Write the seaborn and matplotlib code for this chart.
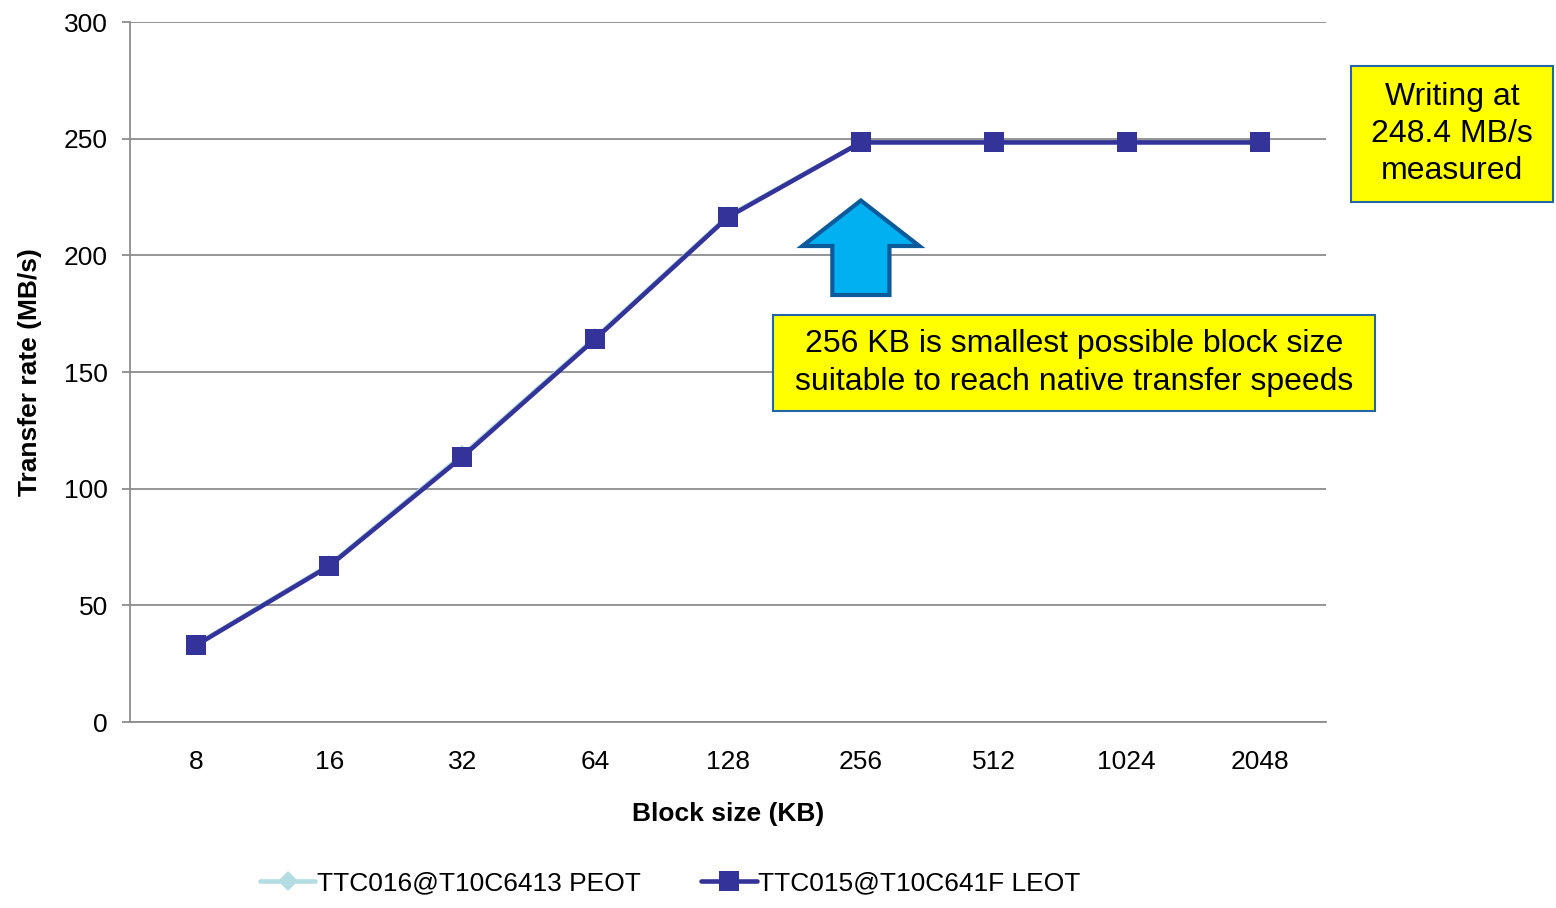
import matplotlib
matplotlib.use("Agg")
import matplotlib.pyplot as plt
from matplotlib.patches import Polygon, Rectangle
import seaborn as sns
import pandas as pd
import numpy as np

block_sizes = ["8", "16", "32", "64", "128", "256", "512", "1024", "2048"]
peot_rate = [33.2, 67.3, 114.3, 164.6, 216.8, 248.4, 248.4, 248.4, 248.4]
leot_rate = [33.0, 66.9, 113.6, 164.1, 216.4, 248.4, 248.4, 248.4, 248.4]
series_names = ["TTC016@T10C6413 PEOT", "TTC015@T10C641F LEOT"]
y_ticks = [0, 50, 100, 150, 200, 250, 300]
note_main = "256 KB is smallest possible block size\nsuitable to reach native transfer speeds"
note_rate = "Writing at\n248.4 MB/s\nmeasured"

sns.set_theme(style="white")
plt.rcParams["font.family"] = ["Liberation Sans", "DejaVu Sans"]
plt.rcParams.update({"text.color": "black", "axes.labelcolor": "black",
                     "xtick.labelcolor": "black", "ytick.labelcolor": "black"})

W, H = 1556, 908
fig = plt.figure(figsize=(W / 100, H / 100), dpi=100)
ax = fig.add_axes([130 / W, 1 - 722 / H, (1326 - 130) / W, (722 - 22) / H])

df = pd.DataFrame({
    "block": block_sizes * 2,
    "rate": peot_rate + leot_rate,
    "series": [series_names[0]] * 9 + [series_names[1]] * 9,
})

sns.lineplot(data=df[df.series == series_names[0]], x="block", y="rate", ax=ax,
             color="#b3dde2", lw=3.3, marker="D", markersize=10,
             markeredgewidth=0, sort=False, label=series_names[0])
sns.lineplot(data=df[df.series == series_names[1]], x="block", y="rate", ax=ax,
             color="#333399", lw=3.3, marker="s", markersize=14,
             markeredgewidth=0, sort=False, label=series_names[1])

ax.set_xlim(-0.5, 8.5)
ax.set_ylim(0, 300)
ax.set_yticks(y_ticks)
ax.yaxis.grid(True, color="#8c8c8c", lw=1.3)
ax.set_axisbelow(True)
for s in ["top", "right"]:
    ax.spines[s].set_visible(False)
for s in ["left", "bottom"]:
    ax.spines[s].set_color("#8c8c8c")
    ax.spines[s].set_linewidth(1.3)

ax.set_xticks(range(len(block_sizes)))
ax.set_xticklabels(block_sizes)
ax.set_xticks(np.arange(-0.5, 9.0, 1.0), minor=True)
ax.tick_params(axis="x", which="major", length=0, pad=20, labelsize=19)
ax.tick_params(axis="x", which="minor", length=6, width=1.3, color="#8c8c8c", direction="out")
ax.tick_params(axis="y", which="major", length=6, width=1.3, color="#8c8c8c",
               direction="out", labelsize=19, pad=10, left=True)

ax.set_xlabel("Block size (KB)", fontsize=19, fontweight="bold", labelpad=20)
ax.set_ylabel("Transfer rate (MB/s)", fontsize=19, fontweight="bold", labelpad=16)

# Up arrow pointing at the 256 KB point
cx = 5.0
hw, sw = 0.44, 0.215
tip, base, bottom = 223.5, 204.0, 183.0
arrow = Polygon([(cx, tip), (cx + hw, base), (cx + sw, base), (cx + sw, bottom),
                 (cx - sw, bottom), (cx - sw, base), (cx - hw, base)],
                closed=True, facecolor="#00b0f0", edgecolor="#0b5a9c", lw=3, zorder=5)
ax.add_patch(arrow)

def note_box(x0, y0, x1, y1, text, size, spacing):
    rect = Rectangle((x0 / W, 1 - y1 / H), (x1 - x0) / W, (y1 - y0) / H,
                     transform=fig.transFigure, facecolor="#ffff00",
                     edgecolor="#2266aa", lw=1.5, zorder=6)
    fig.add_artist(rect)
    fig.text((x0 + x1) / 2 / W, 1 - (y0 + y1) / 2 / H, text, ha="center", va="center",
             fontsize=size, linespacing=spacing, zorder=7)

note_box(773, 315, 1375, 411, note_main, 23, 1.36)
note_box(1351, 66, 1553, 202, note_rate, 23, 1.3)

handles, labels = ax.get_legend_handles_labels()
ax.legend(handles, labels, loc="center", bbox_to_anchor=(670 / W, 1 - 883 / H),
          bbox_transform=fig.transFigure, ncol=2, frameon=False, fontsize=19,
          handlelength=2.1, handletextpad=0.05, columnspacing=2.3)

fig.savefig("out.png", dpi=100)
